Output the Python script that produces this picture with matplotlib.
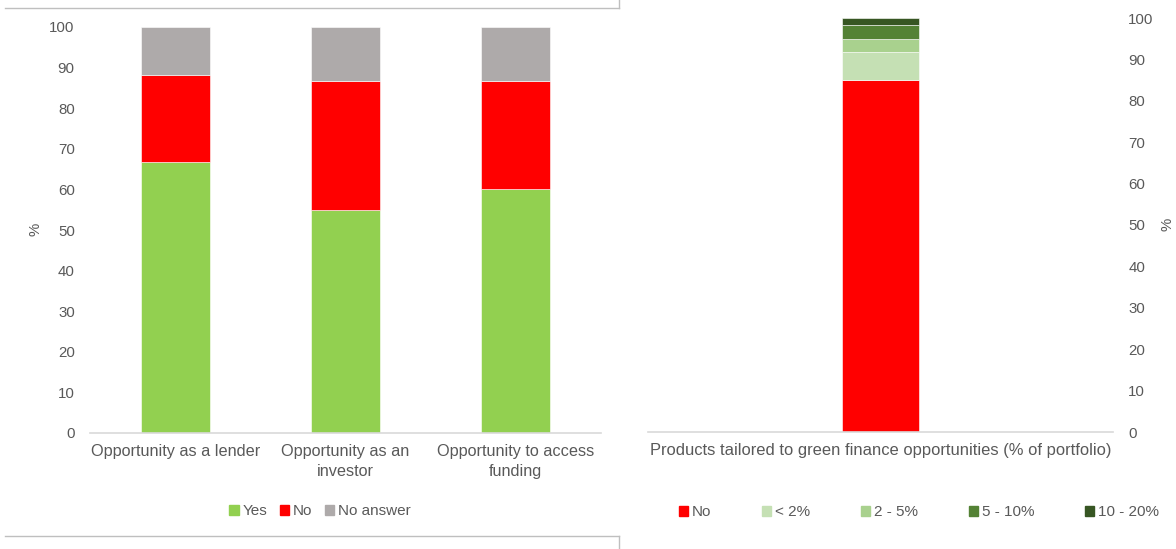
import matplotlib
matplotlib.use("Agg")
import matplotlib.pyplot as plt
from matplotlib.lines import Line2D
from matplotlib.patches import Patch

plt.rcParams['font.family'] = ['Liberation Sans', 'DejaVu Sans']

# Left chart data
left_categories = ["Opportunity as a lender", "Opportunity as an\ninvestor", "Opportunity to access\nfunding"]
left_series = ["Yes", "No", "No answer"]
yes_vals = [66.7, 55.0, 60.0]
no_vals = [21.6, 31.7, 26.7]
noans_vals = [11.7, 13.3, 13.3]
left_colors = ["#92d050", "#ff0000", "#aeaaaa"]

# Right chart data
right_category = ["Products tailored to green finance opportunities (% of portfolio)"]
right_series = ["No", "< 2%", "2 - 5%", "5 - 10%", "10 - 20%"]
right_vals = [85.0, 6.7, 3.3, 3.3, 1.7]
right_colors = ["#ff0000", "#c5e0b4", "#a9d18e", "#548235", "#375623"]

yticks = list(range(0, 101, 10))

TXT = "#595959"
AX = "#d9d9d9"
W, H = 1176, 549
fig = plt.figure(figsize=(W / 100, H / 100), dpi=100)

def fx(px):
    return px / W

def fy(py):
    return 1 - py / H

# Left axes
axL = fig.add_axes([fx(90), fy(433), fx(601) - fx(90), fy(27) - fy(433)])
x = list(range(len(left_categories)))
bottom = [0.0] * len(x)
for name, vals, col in zip(left_series, [yes_vals, no_vals, noans_vals], left_colors):
    axL.bar(x, vals, width=0.405, bottom=bottom, color=col, label=name,
            edgecolor="white", linewidth=0.4)
    bottom = [b + v for b, v in zip(bottom, vals)]
axL.set_xlim(-0.5, 2.5)
axL.set_ylim(0, 100)
axL.set_yticks(yticks)
axL.set_xticks(x)
axL.set_xticklabels(left_categories, fontsize=11.7, color=TXT, linespacing=1.4)
axL.tick_params(axis='y', length=0, pad=11, labelsize=10.8, labelcolor=TXT)
axL.tick_params(axis='x', length=0, pad=8)
for s in ['top', 'right', 'left']:
    axL.spines[s].set_visible(False)
axL.spines['bottom'].set_color(AX)
axL.spines['bottom'].set_linewidth(1.2)
fig.text(fx(36), fy(229), "%", rotation=90, ha='center', va='center', color=TXT, fontsize=10.8)

handlesL = [Patch(color=c, label=n) for n, c in zip(left_series, left_colors)]
fig.legend(handles=handlesL, loc='center', bbox_to_anchor=(fx(320), fy(511)), ncol=3,
           frameon=False, fontsize=11, labelcolor=TXT, handlelength=0.62, handleheight=0.62,
           handletextpad=0.25, columnspacing=0.8)

# Right axes
axR = fig.add_axes([fx(648), fy(432), fx(1113) - fx(648), fy(18) - fy(432)])
b = 0.0
for name, v, col in zip(right_series, right_vals, right_colors):
    axR.bar([0], [v], width=0.166, bottom=[b], color=col, label=name,
            edgecolor="white", linewidth=0.4)
    b += v
axR.set_xlim(-0.5, 0.5)
axR.set_ylim(0, 100)
axR.set_yticks(yticks)
axR.yaxis.tick_right()
axR.set_xticks([0])
axR.set_xticklabels(right_category, fontsize=11.9, color=TXT)
axR.tick_params(axis='y', length=0, pad=11, labelsize=10.8, labelcolor=TXT)
axR.tick_params(axis='x', length=0, pad=8)
for s in ['top', 'right', 'left']:
    axR.spines[s].set_visible(False)
axR.spines['bottom'].set_color(AX)
axR.spines['bottom'].set_linewidth(1.2)
fig.text(fx(1167), fy(224), "%", rotation=90, ha='center', va='center', color=TXT, fontsize=10.8)

handlesR = [Patch(color=c, label=n) for n, c in zip(right_series, right_colors)]
fig.legend(handles=handlesR, loc='center', bbox_to_anchor=(fx(919), fy(512)), ncol=5,
           frameon=False, fontsize=11, labelcolor=TXT, handlelength=0.62, handleheight=0.62,
           handletextpad=0.25, columnspacing=3.3)

# Chart borders
BC = "#bfbfbf"
for (x0, y0, x1, y1) in [(5, 8, 619, 8), (619, 0, 619, 8), (5, 536, 619, 536), (619, 536, 619, 549)]:
    fig.add_artist(Line2D([fx(x0), fx(x1)], [fy(y0), fy(y1)], color=BC, linewidth=1.0,
                          transform=fig.transFigure))

fig.savefig("out.png", dpi=100)
